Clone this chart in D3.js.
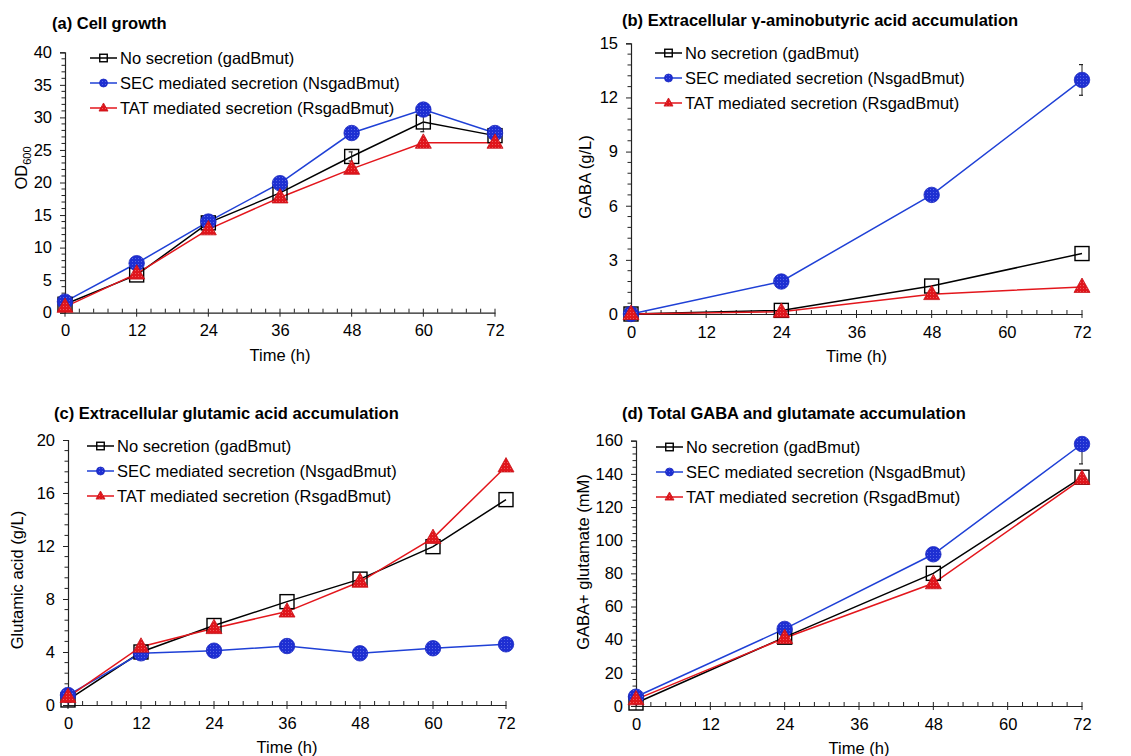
<!DOCTYPE html>
<html><head><meta charset="utf-8">
<script src="https://cdn.jsdelivr.net/npm/d3@7"></script>
<style>body{margin:0;background:#fff}svg{display:block}text{font-family:"Liberation Sans",Arial,sans-serif;fill:#000}</style>
</head><body>
<svg id="c" width="1131" height="756"></svg>
<script>
// ---------- data ----------
const seriesNames = ["No secretion (gadBmut)", "SEC mediated secretion (NsgadBmut)", "TAT mediated secretion (RsgadBmut)"];
const timeA = [0, 12, 24, 36, 48, 60, 72];
const timeB = [0, 24, 48, 72];
const timeC = [0, 12, 24, 36, 48, 60, 72];
const timeD = [0, 24, 48, 72];
const xTicks = [0, 12, 24, 36, 48, 60, 72];

// (a) cell growth OD600
const odNoSec = [1.3, 5.8, 13.8, 18.4, 24.0, 29.3, 27.2];
const odSEC   = [1.7, 7.6, 14.0, 19.9, 27.6, 31.2, 27.6];
const odTAT   = [0.9, 6.0, 12.8, 17.7, 22.1, 26.1, 26.1];
const odErrNoSec = [0, 0, 0, 0, 0.7, 1.5, 0];
// (b) GABA g/L
const gabaNoSec = [0, 0.2, 1.55, 3.35];
const gabaSEC   = [0, 1.8, 6.6, 12.97];
const gabaTAT   = [0, 0.12, 1.1, 1.5];
const gabaErrSEC = [0, 0, 0, 0.85];
// (c) glutamic acid g/L
const gluNoSec = [0.38, 4.0, 6.0, 7.8, 9.5, 11.95, 15.5];
const gluSEC   = [0.75, 3.9, 4.1, 4.45, 3.9, 4.28, 4.58];
const gluTAT   = [0.6, 4.4, 5.8, 7.05, 9.3, 12.6, 18.0];
// (d) GABA + glutamate mM
const totNoSec = [1.8, 41.5, 80, 138];
const totSEC   = [5.6, 46.5, 91.5, 158];
const totTAT   = [4.0, 41, 74, 137];
const totErrSECLow = [0, 0, 0, 12];

const yTicksA = [0, 5, 10, 15, 20, 25, 30, 35, 40];
const yTicksB = [0, 3, 6, 9, 12, 15];
const yTicksC = [0, 4, 8, 12, 16, 20];
const yTicksD = [0, 20, 40, 60, 80, 100, 120, 140, 160];

// ---------- drawing ----------
const svg = d3.select("#c");
const defs = svg.append("defs");
function pat(id, base, dot){
  const p = defs.append("pattern").attr("id", id).attr("width", 3).attr("height", 3).attr("patternUnits", "userSpaceOnUse");
  p.append("rect").attr("width", 3).attr("height", 3).attr("fill", base);
  p.append("rect").attr("width", 1).attr("height", 1).attr("fill", dot).attr("opacity", 0.6);
}
pat("pBlue", "#1e2fd2", "#7f8cf0");
pat("pRed", "#e0161c", "#f48a8a");

const styles = [
  {color: "#000", shape: "square"},
  {color: "#1f40d6", shape: "circle"},
  {color: "#e3161c", shape: "triangle"}
];

function marker(g, shape, x, y, s){
  if (shape === "square"){
    g.append("rect").attr("x", x - s/2).attr("y", y - s/2).attr("width", s).attr("height", s)
      .attr("fill", "none").attr("stroke", "#000").attr("stroke-width", 1.4);
  } else if (shape === "circle"){
    g.append("circle").attr("cx", x).attr("cy", y).attr("r", s/2)
      .attr("fill", "url(#pBlue)").attr("stroke", "#1a28c0").attr("stroke-width", 0.8);
  } else {
    const h = s * 0.9;
    g.append("path").attr("d", `M${x},${y - h*0.62}L${x + s/2},${y + h*0.38}L${x - s/2},${y + h*0.38}Z`)
      .attr("fill", "url(#pRed)").attr("stroke", "#c81016").attr("stroke-width", 0.8);
  }
}

function panel(o){
  const x = d3.scaleLinear().domain([0, 72]).range([o.x0, o.x1]);
  const y = d3.scaleLinear().domain([0, o.yMax]).range([o.yB, o.yT]);
  const g = svg.append("g");
  // title
  g.append("text").attr("x", o.tx).attr("y", o.ty).attr("font-size", 16.5).attr("font-weight", "bold").text(o.title);
  // y axis
  const yMinor = [];
  const step = o.yTicks[1] - o.yTicks[0];
  for (let i = 0; i < o.yTicks.length - 1; i++) for (let k = 1; k < 5; k++) yMinor.push(o.yTicks[i] + step * k / 5);
  const ya = g.append("g").attr("transform", `translate(${o.x0},0)`)
    .call(d3.axisLeft(y).tickValues(o.yTicks).tickSize(5).tickPadding(8).tickFormat(d3.format("d")));
  ya.select(".domain").attr("stroke", "#222").attr("stroke-width", 1.2);
  ya.selectAll(".tick line").attr("stroke", "#222");
  ya.selectAll("text").attr("font-size", 16.5).attr("font-family", '"Liberation Sans",Arial,sans-serif');
  g.append("g").selectAll("line").data(yMinor).join("line")
    .attr("x1", o.x0 - 3.5).attr("x2", o.x0).attr("y1", d => y(d)).attr("y2", d => y(d)).attr("stroke", "#222");
  // x axis
  const xMinor = [];
  for (let i = 0; i < xTicks.length - 1; i++) for (let k = 1; k < 5; k++) xMinor.push(xTicks[i] + 12 * k / 5);
  const xa = g.append("g").attr("transform", `translate(0,${o.yB})`)
    .call(d3.axisBottom(x).tickValues(xTicks).tickSize(0).tickPadding(12).tickFormat(d3.format("d")));
  xa.select(".domain").attr("stroke", "#222").attr("stroke-width", 1.2);
  xa.selectAll("text").attr("font-size", 16.5).attr("font-family", '"Liberation Sans",Arial,sans-serif');
  g.append("g").selectAll("line").data(xTicks.concat(xMinor)).join("line")
    .attr("x1", d => x(d)).attr("x2", d => x(d)).attr("y1", o.yB).attr("y2", d => xTicks.includes(d) ? o.yB + 4 : o.yB - 4)
    .attr("stroke", "#222");
  g.append("g").selectAll("line").data(xTicks).join("line")
    .attr("x1", d => x(d)).attr("x2", d => x(d)).attr("y1", o.yB).attr("y2", o.yB - 4).attr("stroke", "#222");
  // axis titles
  g.append("text").attr("x", (o.x0 + o.x1) / 2).attr("y", o.yB + 48).attr("text-anchor", "middle").attr("font-size", 16.5).text("Time (h)");
  const yl = g.append("text").attr("transform", `translate(${o.ylx},${o.yly}) rotate(-90)`).attr("text-anchor", "middle").attr("font-size", 16.5);
  if (o.yLabelSub){
    yl.append("tspan").text(o.yLabel);
    yl.append("tspan").attr("font-size", 11).attr("dy", 4).text(o.yLabelSub);
  } else yl.text(o.yLabel);
  // series
  const line = d3.line().x(d => x(d[0])).y(d => y(d[1]));
  o.series.forEach((vals, si) => {
    const pts = o.t.map((t, i) => [t, vals[i]]);
    g.append("path").attr("d", line(pts)).attr("fill", "none").attr("stroke", styles[si].color).attr("stroke-width", 1.5);
  });
  o.series.forEach((vals, si) => {
    const errs = o.errs[si];
    const mg = g.append("g");
    o.t.forEach((t, i) => {
      if (errs){
        const lo = errs[0] ? errs[0][i] : 0, hi = errs[1] ? errs[1][i] : 0;
        if (lo > 0){
          mg.append("line").attr("x1", x(t)).attr("x2", x(t)).attr("y1", y(vals[i])).attr("y2", y(vals[i] - lo)).attr("stroke", "#222").attr("stroke-width", 1);
          mg.append("line").attr("x1", x(t) - 3).attr("x2", x(t) + 1).attr("y1", y(vals[i] - lo)).attr("y2", y(vals[i] - lo)).attr("stroke", "#222").attr("stroke-width", 1.2);
        }
        if (hi > 0){
          mg.append("line").attr("x1", x(t)).attr("x2", x(t)).attr("y1", y(vals[i])).attr("y2", y(vals[i] + hi)).attr("stroke", "#222").attr("stroke-width", 1);
          mg.append("line").attr("x1", x(t) - 3).attr("x2", x(t) + 1).attr("y1", y(vals[i] + hi)).attr("y2", y(vals[i] + hi)).attr("stroke", "#222").attr("stroke-width", 1.2);
        }
      }
    });
    o.t.forEach((t, i) => marker(mg, styles[si].shape, x(t), y(vals[i]), styles[si].shape === "square" ? 14 : (styles[si].shape === "circle" ? 15.5 : 16)));
  });
  // legend
  seriesNames.forEach((n, si) => {
    const ly = o.ly + si * 25;
    g.append("line").attr("x1", o.lx).attr("x2", o.lx + 27).attr("y1", ly).attr("y2", ly).attr("stroke", styles[si].color).attr("stroke-width", 1.5);
    marker(g, styles[si].shape, o.lx + 13.5, ly, styles[si].shape === "square" ? 7.5 : (styles[si].shape === "circle" ? 8 : 9));
    g.append("text").attr("x", o.lx + 30).attr("y", ly).attr("dy", "0.35em").attr("font-size", 16.5).text(n);
  });
}

panel({title: "(a) Cell growth", tx: 52, ty: 29, x0: 65, x1: 495, yT: 52.3, yB: 312.7, yMax: 40, yTicks: yTicksA,
  yLabel: "OD", yLabelSub: "600", ylx: 27, yly: 168, t: timeA, series: [odNoSec, odSEC, odTAT],
  errs: [[odErrNoSec, odErrNoSec], null, null], lx: 90, ly: 58});
panel({title: "(b) Extracellular \u03b3-aminobutyric  acid accumulation", tx: 622, ty: 26, x0: 631, x1: 1082, yT: 43.3, yB: 314, yMax: 15, yTicks: yTicksB,
  yLabel: "GABA (g/L)", ylx: 591, yly: 177, t: timeB, series: [gabaNoSec, gabaSEC, gabaTAT],
  errs: [null, [gabaErrSEC, gabaErrSEC], null], lx: 655, ly: 53});
panel({title: "(c) Extracellular glutamic acid accumulation", tx: 54, ty: 419, x0: 68, x1: 506, yT: 440, yB: 705, yMax: 20, yTicks: yTicksC,
  yLabel: "Glutamic acid (g/L)", ylx: 23, yly: 580, t: timeC, series: [gluNoSec, gluSEC, gluTAT],
  errs: [null, null, null], lx: 87, ly: 446});
panel({title: "(d) Total GABA and glutamate accumulation", tx: 622, ty: 419, x0: 636, x1: 1082, yT: 440.7, yB: 706, yMax: 160, yTicks: yTicksD,
  yLabel: "GABA+ glutamate  (mM)", ylx: 589, yly: 562, t: timeD, series: [totNoSec, totSEC, totTAT],
  errs: [null, [totErrSECLow, null], null], lx: 656, ly: 447});
</script>
</body></html>
